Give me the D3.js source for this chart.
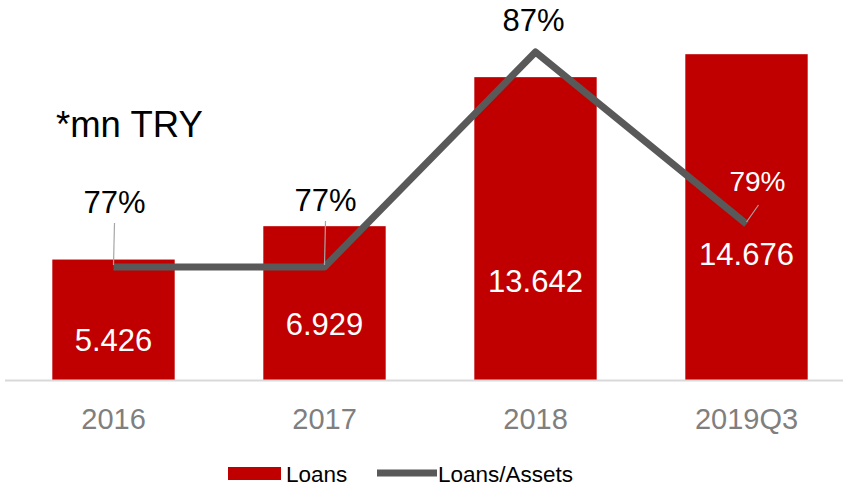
<!DOCTYPE html>
<html>
<head>
<meta charset="utf-8">
<script src="https://cdn.jsdelivr.net/npm/d3@7"></script>
<style>
  html, body { margin: 0; padding: 0; background: #fff; }
  svg { display: block; font-family: "Liberation Sans", Arial, Helvetica, sans-serif; }
</style>
</head>
<body>
<svg id="chart" width="843" height="487"></svg>
<script>
// Loans (mn TRY) and Loans/Assets ratio (%)
const categories = ["2016", "2017", "2018", "2019Q3"];
const loans = [5.426, 6.929, 13.642, 14.676];
const loanLabels = ["5.426", "6.929", "13.642", "14.676"];
const ratio = [77, 77, 87, 79];
const ratioLabels = ["77%", "77%", "87%", "79%"];
// where each loan label sits inside its bar, in loan units
const loanLabelAt = [1.31, 2.03, 3.96, 5.18];
// ratio label offsets from their points, in px: [dx, dy, leader]
const ratioLabelOffset = [[1, -54, true], [1, -56, true], [-2, -21, false], [11, -33, true]];

const RED = "#c00000", GRAY_LINE = "#595959";
const svg = d3.select("#chart");

const x = d3.scaleBand().domain(categories).range([8, 852]).paddingInner(0.42).paddingOuter(0.21);
const y = d3.scaleLinear().domain([0, 16]).range([380, 24.8]);
const y2 = d3.scaleLinear().domain([77, 87]).range([267, 52]);
const cx = d => x(d) + x.bandwidth() / 2;

// bars
svg.append("g").selectAll("rect").data(categories).join("rect")
  .attr("x", d => x(d)).attr("width", x.bandwidth())
  .attr("y", (d, i) => y(loans[i])).attr("height", (d, i) => y(0) - y(loans[i]))
  .attr("fill", RED);

// category axis
const axis = svg.append("g").attr("transform", `translate(0,${y(0)})`)
  .call(d3.axisBottom(x).tickSize(0).tickPadding(0));
axis.select(".domain").remove();
axis.append("line").attr("x1", 5).attr("x2", 843).attr("y1", 0.5).attr("y2", 0.5)
  .attr("stroke", "#d9d9d9").attr("stroke-width", 2);
axis.selectAll(".tick text").attr("dy", null).attr("y", 49)
  .attr("fill", "#7f7f7f").style("font-size", "29px").style("font-family", null);

// bar value labels
svg.append("g").selectAll("text").data(categories).join("text")
  .attr("x", d => cx(d)).attr("y", (d, i) => y(loanLabelAt[i]))
  .attr("text-anchor", "middle").attr("fill", "#fff").style("font-size", "31px")
  .text((d, i) => loanLabels[i]);

// ratio line
const line = d3.line().x((d, i) => cx(categories[i])).y(d => y2(d));
svg.append("path").datum(ratio).attr("d", line)
  .attr("fill", "none").attr("stroke", GRAY_LINE).attr("stroke-width", 7)
  .attr("stroke-linejoin", "round");

// ratio labels with leader lines
const rl = svg.append("g");
ratio.forEach((v, i) => {
  const px = cx(categories[i]), py = y2(v);
  const [dx, dy, leader] = ratioLabelOffset[i];
  const inside = i === 3;
  const size = inside ? 28 : 31;
  if (leader) {
    const lx = inside ? px + 12 : px + 1;
    const ly = inside ? py + dy + 14 : py + dy + 10;
    rl.append("line").attr("x1", lx).attr("y1", ly).attr("x2", px).attr("y2", py - 2)
      .attr("stroke", "#a6a6a6").attr("stroke-width", 1.2);
  }
  rl.append("text").attr("x", px + dx).attr("y", py + dy)
    .attr("text-anchor", "middle").attr("fill", inside ? "#fff" : "#000")
    .style("font-size", size + "px").text(ratioLabels[i]);
});

// unit note
svg.append("text").attr("x", 56).attr("y", 137).attr("fill", "#000")
  .style("font-size", "36.5px").text("*mn TRY");

// legend
const lg = svg.append("g");
lg.append("rect").attr("x", 228).attr("y", 467).attr("width", 53).attr("height", 13).attr("fill", RED);
lg.append("text").attr("x", 286).attr("y", 482).style("font-size", "22.5px").attr("fill", "#000").text("Loans");
lg.append("line").attr("x1", 377).attr("x2", 437).attr("y1", 473).attr("y2", 473)
  .attr("stroke", GRAY_LINE).attr("stroke-width", 7);
lg.append("text").attr("x", 438).attr("y", 482).style("font-size", "22.5px").attr("fill", "#000").text("Loans/Assets");
</script>
</body>
</html>
